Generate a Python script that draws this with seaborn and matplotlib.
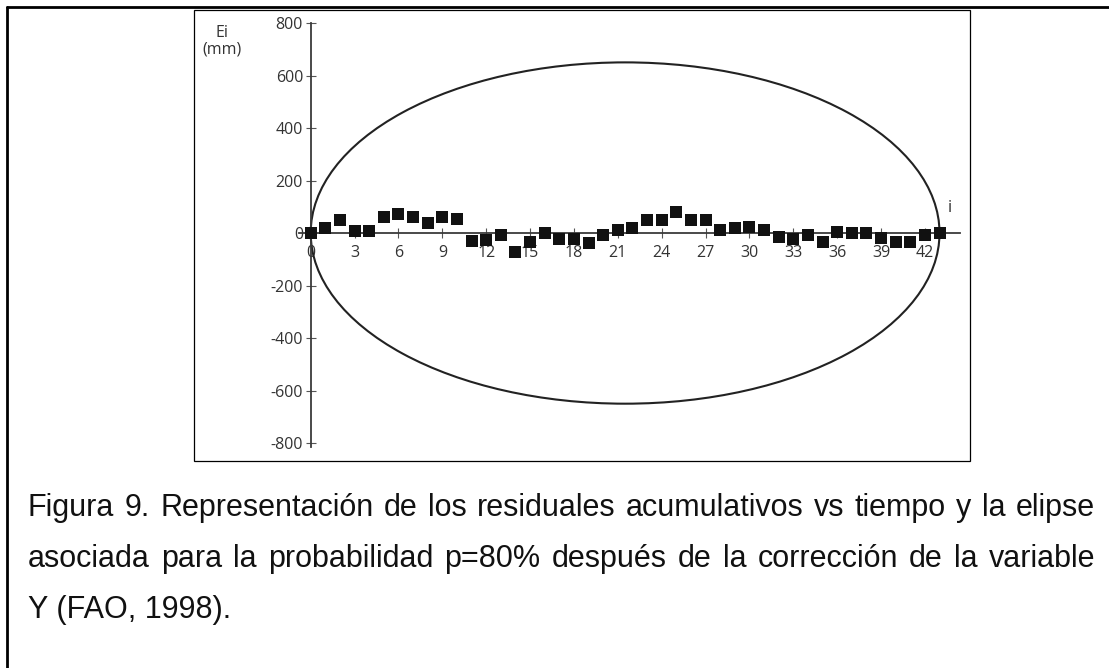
import matplotlib
matplotlib.use("Agg")
import pandas as pd
import matplotlib.pyplot as plt
import seaborn as sns
from matplotlib.patches import Ellipse, Rectangle
from matplotlib.lines import Line2D

# cumulative residuals Ei (mm) for each period i
i_vals = list(range(44))
ei_vals = [0, 20, 51, 9, 9, 60, 74, 60, 38, 60, 54, -32, -25, -6, -71, -36,
           0, -23, -23, -38, -8, 11, 18, 50, 50, 79, 50, 50, 11, 18, 22, 11,
           -14, -23, -8, -36, 5, 0, 0, -20, -33, -33, -6, 0]
x_ticks = list(range(0, 43, 3))
y_ticks = list(range(-800, 801, 200))
n_periods = 43
ellipse_half_height = 650

caption_lines = [
    "Figura 9. Representación de los residuales acumulativos vs tiempo y la elipse",
    "asociada para la probabilidad p=80% después de la corrección de la variable",
    "Y (FAO, 1998).",
]

sns.set_theme(style="white")
plt.rcParams['font.family'] = ['Open Sans', 'DejaVu Sans']

W, H = 1109, 668
fig = plt.figure(figsize=(W / 100, H / 100), dpi=100)
fig.patch.set_facecolor("white")


def box(x0, y0, x1, y1):
    return [x0 / W, 1 - y1 / H, (x1 - x0) / W, (y1 - y0) / H]


ax = fig.add_axes(box(299, 23, 960, 447))
ax.set_facecolor("none")

df = pd.DataFrame({"i": i_vals, "Ei": ei_vals})
sns.scatterplot(data=df, x="i", y="Ei", marker="s", s=75, color="#111111",
                edgecolor="#111111", linewidth=0, ax=ax, zorder=3, legend=False)

ax.add_patch(Ellipse((n_periods / 2, 0), n_periods, 2 * ellipse_half_height,
                     fill=False, edgecolor="#222222", lw=1.5, zorder=2))

ax.set_xlim(-0.8, 44.4)
ax.set_ylim(-815, 800)
ax.set_xticks(x_ticks)
ax.set_yticks(y_ticks)
ax.set_yticklabels([str(v) for v in y_ticks])
ax.set_xlabel("")
ax.set_ylabel("")

for side in ["top", "right"]:
    ax.spines[side].set_visible(False)
ax.spines["left"].set_position(("data", 0))
ax.spines["bottom"].set_position(("data", 0))
for side in ["left", "bottom"]:
    ax.spines[side].set_color("#3a3a3a")
    ax.spines[side].set_linewidth(1.3)

ax.tick_params(direction="inout", length=7, width=0.8, color="#555555",
               labelsize=11.5, labelcolor="#333333")
ax.tick_params(axis="y", left=True, pad=2)
ax.tick_params(axis="x", bottom=True, pad=5)

fig.text(222 / W, 1 - 41 / H, "Ei\n(mm)", ha="center", va="center",
         fontsize=11.5, color="#333333", linespacing=1.05)
fig.text(950 / W, 1 - 208 / H, "i", ha="center", va="center",
         fontsize=12, color="#333333")

# frames
fig.add_artist(Rectangle((194 / W, 1 - 461 / H), (970 - 194) / W, (461 - 10) / H,
                         transform=fig.transFigure, fill=False, edgecolor="black", lw=0.9))
fig.add_artist(Line2D([7 / W, 7 / W], [0, 1 - 7 / H], transform=fig.transFigure,
                      color="black", lw=2))
fig.add_artist(Line2D([7 / W, 1], [1 - 7 / H, 1 - 7 / H], transform=fig.transFigure,
                      color="black", lw=2))

# caption, justified like the source document
renderer = fig.canvas.get_renderer()
left, right = 28, 1095
baselines = [516, 567, 618]
cap_size = 22
for k, line in enumerate(caption_lines):
    y = 1 - baselines[k] / H
    if k == len(caption_lines) - 1:
        fig.text(left / W, y, line, fontsize=cap_size, family="Liberation Sans",
                 color="#111111", va="baseline", ha="left")
        continue
    words = line.split(" ")
    texts = [fig.text(0, y, w, fontsize=cap_size, family="Liberation Sans",
                      color="#111111", va="baseline", ha="left") for w in words]
    widths = [t.get_window_extent(renderer).width for t in texts]
    gap = (right - left - sum(widths)) / (len(words) - 1)
    x = left
    for t, w in zip(texts, widths):
        t.set_x(x / W)
        x += w + gap

fig.savefig("out.png", dpi=100)
